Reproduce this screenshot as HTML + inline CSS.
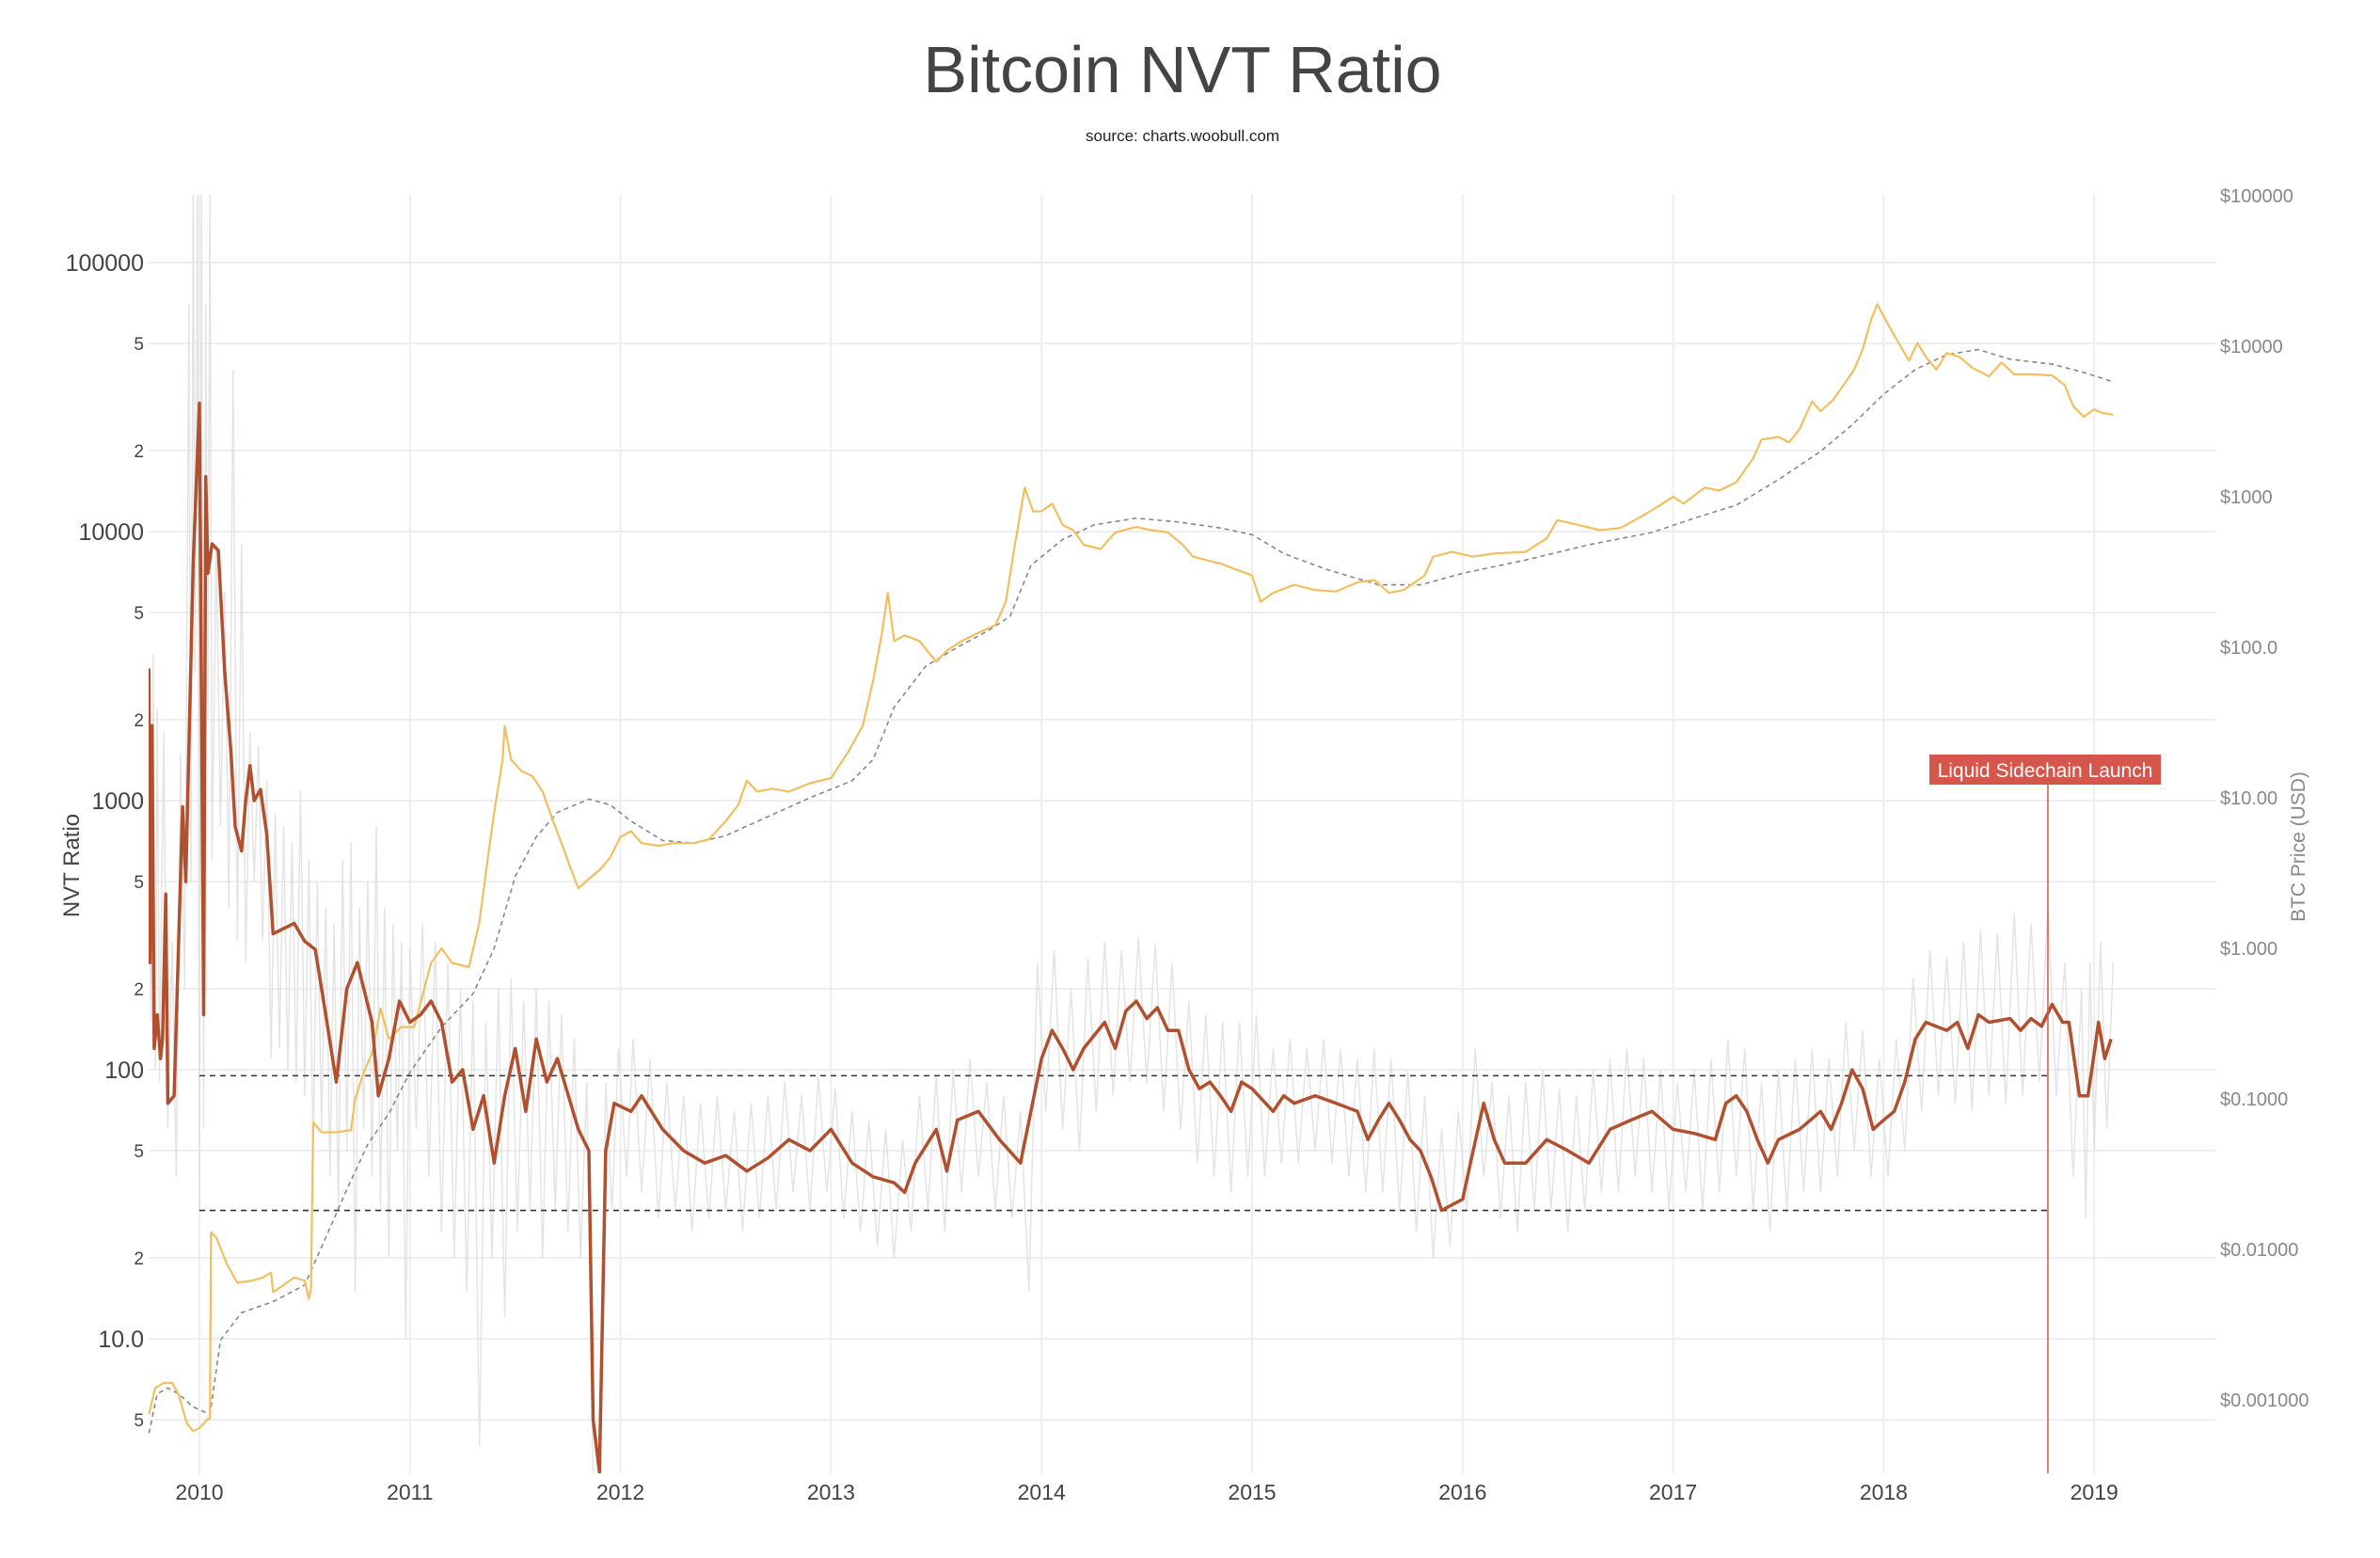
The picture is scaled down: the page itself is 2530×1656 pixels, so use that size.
<!DOCTYPE html>
<html><head><meta charset="utf-8"><style>
html,body{margin:0;padding:0;background:#fff;}
svg{display:block;font-family:"Liberation Sans",sans-serif;}
</style></head><body>
<svg id="chart" width="2530" height="1656" viewBox="0 0 2530 1656" xmlns="http://www.w3.org/2000/svg">
<text x="1257" y="98" text-anchor="middle" font-size="70" fill="#444" font-weight="200" style="font-family:'Liberation Sans','DejaVu Sans',sans-serif">Bitcoin NVT Ratio</text>
<text x="1257" y="150" text-anchor="middle" font-size="17" fill="#222">source: charts.woobull.com</text>
<g id="grid"></g>
<g id="axes"></g>
<defs><clipPath id="clip"><rect x="158" y="207" width="2198" height="1359"/></clipPath></defs>
<g id="marks" clip-path="url(#clip)"></g>
<text transform="translate(84,920) rotate(-90)" text-anchor="middle" font-size="24" fill="#444">NVT Ratio</text>
<text transform="translate(2450,900) rotate(-90)" text-anchor="middle" font-size="21" fill="#888">BTC Price (USD)</text>
</svg>
<script>
const yearTicks=[2010,2011,2012,2013,2014,2015,2016,2017,2018,2019];
const nvtMajor=[10,100,1000,10000,100000];
const nvtMajorLabels=["10.0","100","1000","10000","100000"];
const nvtMinor=[5,20,50,200,500,2000,5000,20000,50000];
const nvtMinorLabels=["5","2","5","2","5","2","5","2","5"];
const priceTicks=[0.001,0.01,0.1,1,10,100,1000,10000,100000];
const priceLabels=["$0.001000","$0.01000","$0.1000","$1.000","$10.00","$100.0","$1000","$10000","$100000"];
const bands=[95,30];
const launchYear=2018.78;
const launchLabel="Liquid Sidechain Launch";
const price=[[2009.76,0.0008],[2009.79,0.0012],[2009.83,0.0013],[2009.87,0.0013],[2009.9,0.0011],[2009.94,0.0007],[2009.97,0.00062],[2010.0,0.00065],[2010.04,0.00075],[2010.05,0.00075],[2010.055,0.013],[2010.08,0.012],[2010.13,0.008],[2010.18,0.006],[2010.25,0.0062],[2010.3,0.0065],[2010.34,0.007],[2010.35,0.0052],[2010.4,0.0058],[2010.45,0.0065],[2010.5,0.0062],[2010.52,0.0047],[2010.53,0.0055],[2010.54,0.07],[2010.58,0.06],[2010.65,0.06],[2010.72,0.062],[2010.74,0.1],[2010.78,0.15],[2010.82,0.2],[2010.86,0.4],[2010.9,0.25],[2010.96,0.3],[2011.02,0.3],[2011.1,0.8],[2011.15,1.0],[2011.2,0.8],[2011.28,0.75],[2011.33,1.5],[2011.37,4],[2011.4,8],[2011.44,18],[2011.45,30],[2011.48,18],[2011.53,15],[2011.58,14],[2011.63,11],[2011.68,7],[2011.72,5],[2011.76,3.5],[2011.8,2.5],[2011.85,2.9],[2011.9,3.3],[2011.95,4],[2012.0,5.5],[2012.05,6],[2012.1,5],[2012.18,4.8],[2012.25,5],[2012.35,5],[2012.42,5.3],[2012.5,7],[2012.56,9],[2012.6,13],[2012.65,11],[2012.72,11.5],[2012.8,11],[2012.9,12.5],[2013.0,13.5],[2013.08,20],[2013.15,30],[2013.2,60],[2013.24,120],[2013.27,230],[2013.3,110],[2013.35,120],[2013.42,110],[2013.5,80],[2013.55,95],[2013.62,110],[2013.7,125],[2013.78,140],[2013.83,200],[2013.87,450],[2013.92,1150],[2013.96,800],[2014.0,800],[2014.05,900],[2014.1,650],[2014.15,600],[2014.2,480],[2014.28,450],[2014.35,580],[2014.45,630],[2014.52,600],[2014.6,580],[2014.67,480],[2014.72,400],[2014.78,380],[2014.85,360],[2014.92,330],[2015.0,300],[2015.04,200],[2015.1,230],[2015.2,260],[2015.3,240],[2015.4,235],[2015.5,270],[2015.58,280],[2015.65,230],[2015.72,240],[2015.82,300],[2015.86,400],[2015.95,430],[2016.05,400],[2016.15,420],[2016.3,430],[2016.4,530],[2016.45,700],[2016.55,650],[2016.65,600],[2016.75,620],[2016.85,740],[2016.95,900],[2017.0,1000],[2017.05,900],[2017.15,1150],[2017.22,1100],[2017.3,1250],[2017.38,1800],[2017.42,2400],[2017.5,2500],[2017.55,2300],[2017.6,2800],[2017.66,4300],[2017.7,3700],[2017.76,4400],[2017.82,5800],[2017.86,7000],[2017.9,9500],[2017.94,15000],[2017.97,19000],[2018.02,14000],[2018.08,10000],[2018.12,8000],[2018.16,10500],[2018.2,8500],[2018.25,7000],[2018.3,9000],[2018.36,8500],[2018.42,7200],[2018.5,6300],[2018.56,7800],[2018.62,6500],[2018.7,6500],[2018.8,6400],[2018.86,5500],[2018.9,4000],[2018.95,3400],[2019.0,3800],[2019.04,3600],[2019.09,3500]];
const priceMA=[[2009.76,0.0006],[2009.8,0.0011],[2009.85,0.0012],[2009.9,0.0011],[2009.97,0.0009],[2010.05,0.0008],[2010.1,0.0025],[2010.2,0.0038],[2010.35,0.0045],[2010.5,0.0058],[2010.6,0.012],[2010.7,0.025],[2010.8,0.05],[2010.9,0.08],[2011.0,0.15],[2011.15,0.3],[2011.3,0.5],[2011.4,1.0],[2011.5,3],[2011.6,5.5],[2011.7,8],[2011.85,9.8],[2011.95,9],[2012.05,7],[2012.2,5.2],[2012.35,5],[2012.5,5.6],[2012.7,7.5],[2012.9,10],[2013.1,13],[2013.2,18],[2013.3,40],[2013.45,75],[2013.6,100],[2013.75,130],[2013.85,160],[2013.95,350],[2014.1,520],[2014.25,650],[2014.45,720],[2014.65,680],[2014.85,620],[2015.0,560],[2015.15,420],[2015.35,330],[2015.6,260],[2015.8,260],[2016.0,310],[2016.3,380],[2016.6,480],[2016.9,580],[2017.1,720],[2017.3,880],[2017.5,1300],[2017.7,2000],[2017.85,3000],[2018.0,4800],[2018.15,7000],[2018.3,8800],[2018.45,9500],[2018.6,8200],[2018.8,7600],[2018.95,6700],[2019.09,5800]];
const nvtSmooth=[[2009.76,3100],[2009.765,250],[2009.775,1900],[2009.785,120],[2009.8,160],[2009.815,110],[2009.825,130],[2009.84,450],[2009.85,75],[2009.88,80],[2009.92,950],[2009.935,500],[2009.97,7500],[2010.0,30000],[2010.02,160],[2010.03,16000],[2010.04,7000],[2010.06,9000],[2010.09,8500],[2010.12,3000],[2010.15,1500],[2010.17,800],[2010.2,650],[2010.22,1000],[2010.24,1350],[2010.26,1000],[2010.29,1100],[2010.32,750],[2010.35,320],[2010.45,350],[2010.5,300],[2010.55,280],[2010.6,160],[2010.65,90],[2010.7,200],[2010.75,250],[2010.82,150],[2010.85,80],[2010.9,110],[2010.95,180],[2011.0,150],[2011.05,160],[2011.1,180],[2011.15,150],[2011.2,90],[2011.25,100],[2011.3,60],[2011.35,80],[2011.4,45],[2011.45,80],[2011.5,120],[2011.55,70],[2011.6,130],[2011.65,90],[2011.7,110],[2011.8,60],[2011.85,50],[2011.87,5],[2011.9,3.2],[2011.93,50],[2011.97,75],[2012.05,70],[2012.1,80],[2012.2,60],[2012.3,50],[2012.4,45],[2012.5,48],[2012.6,42],[2012.7,47],[2012.8,55],[2012.9,50],[2013.0,60],[2013.1,45],[2013.2,40],[2013.3,38],[2013.35,35],[2013.4,45],[2013.5,60],[2013.55,42],[2013.6,65],[2013.7,70],[2013.8,55],[2013.9,45],[2014.0,110],[2014.05,140],[2014.1,120],[2014.15,100],[2014.2,120],[2014.3,150],[2014.35,120],[2014.4,165],[2014.45,180],[2014.5,155],[2014.55,170],[2014.6,140],[2014.65,140],[2014.7,100],[2014.75,85],[2014.8,90],[2014.85,80],[2014.9,70],[2014.95,90],[2015.0,85],[2015.1,70],[2015.15,80],[2015.2,75],[2015.3,80],[2015.4,75],[2015.5,70],[2015.55,55],[2015.6,65],[2015.65,75],[2015.7,65],[2015.75,55],[2015.8,50],[2015.85,40],[2015.9,30],[2016.0,33],[2016.05,50],[2016.1,75],[2016.15,55],[2016.2,45],[2016.3,45],[2016.4,55],[2016.5,50],[2016.6,45],[2016.7,60],[2016.8,65],[2016.9,70],[2017.0,60],[2017.1,58],[2017.2,55],[2017.25,75],[2017.3,80],[2017.35,70],[2017.4,55],[2017.45,45],[2017.5,55],[2017.6,60],[2017.7,70],[2017.75,60],[2017.8,75],[2017.85,100],[2017.9,85],[2017.95,60],[2018.0,65],[2018.05,70],[2018.1,90],[2018.15,130],[2018.2,150],[2018.3,140],[2018.35,150],[2018.4,120],[2018.45,160],[2018.5,150],[2018.6,155],[2018.65,140],[2018.7,155],[2018.75,145],[2018.8,175],[2018.85,150],[2018.88,150],[2018.93,80],[2018.97,80],[2019.0,115],[2019.02,150],[2019.05,110],[2019.08,130]];
const nvtRaw=[[2009.76,600],[2009.77,150],[2009.78,3500],[2009.79,100],[2009.8,2200],[2009.81,90],[2009.83,1800],[2009.85,60],[2009.87,300],[2009.89,40],[2009.91,1500],[2009.93,200],[2009.95,70000],[2009.96,500],[2009.97,200000],[2009.98,3000],[2009.99,200000],[2010.0,30],[2010.01,200000],[2010.02,60],[2010.03,70000],[2010.04,2000],[2010.05,200000],[2010.06,600],[2010.08,9000],[2010.1,800],[2010.12,6000],[2010.14,400],[2010.16,40000],[2010.18,300],[2010.2,9000],[2010.22,250],[2010.24,1800],[2010.26,500],[2010.28,1600],[2010.3,300],[2010.32,1200],[2010.34,110],[2010.36,900],[2010.38,120],[2010.4,800],[2010.42,100],[2010.44,700],[2010.46,90],[2010.48,1100],[2010.5,80],[2010.52,600],[2010.54,50],[2010.56,500],[2010.58,60],[2010.6,400],[2010.62,40],[2010.64,350],[2010.66,30],[2010.68,600],[2010.7,50],[2010.72,700],[2010.74,15],[2010.76,400],[2010.78,60],[2010.8,500],[2010.82,40],[2010.84,800],[2010.86,30],[2010.88,400],[2010.9,20],[2010.92,350],[2010.94,50],[2010.96,300],[2010.98,10],[2011.0,280],[2011.03,60],[2011.06,350],[2011.09,40],[2011.12,300],[2011.15,25],[2011.18,250],[2011.21,20],[2011.24,200],[2011.27,15],[2011.3,180],[2011.33,4],[2011.36,150],[2011.39,20],[2011.42,200],[2011.45,12],[2011.48,220],[2011.51,25],[2011.54,180],[2011.57,30],[2011.6,200],[2011.63,20],[2011.66,180],[2011.69,30],[2011.72,160],[2011.75,25],[2011.78,130],[2011.81,20],[2011.84,90],[2011.87,3],[2011.9,3],[2011.93,90],[2011.96,30],[2011.99,120],[2012.03,40],[2012.06,130],[2012.1,35],[2012.14,110],[2012.18,28],[2012.22,90],[2012.26,30],[2012.3,80],[2012.34,25],[2012.38,75],[2012.42,28],[2012.46,80],[2012.5,30],[2012.54,70],[2012.58,25],[2012.62,75],[2012.66,28],[2012.7,80],[2012.74,30],[2012.78,90],[2012.82,35],[2012.86,80],[2012.9,30],[2012.94,95],[2012.98,35],[2013.02,85],[2013.06,28],[2013.1,70],[2013.14,25],[2013.18,65],[2013.22,22],[2013.26,60],[2013.3,20],[2013.34,55],[2013.38,25],[2013.42,80],[2013.46,30],[2013.5,95],[2013.54,25],[2013.58,100],[2013.62,35],[2013.66,110],[2013.7,40],[2013.74,90],[2013.78,30],[2013.82,80],[2013.86,28],[2013.9,70],[2013.94,15],[2013.98,250],[2014.02,70],[2014.06,280],[2014.1,60],[2014.14,200],[2014.18,50],[2014.22,260],[2014.26,70],[2014.3,300],[2014.34,80],[2014.38,280],[2014.42,90],[2014.46,310],[2014.5,90],[2014.54,290],[2014.58,70],[2014.62,250],[2014.66,60],[2014.7,180],[2014.74,45],[2014.78,160],[2014.82,40],[2014.86,150],[2014.9,35],[2014.94,150],[2014.98,40],[2015.02,160],[2015.06,40],[2015.1,120],[2015.14,45],[2015.18,130],[2015.22,45],[2015.26,120],[2015.3,50],[2015.34,130],[2015.38,45],[2015.42,120],[2015.46,40],[2015.5,110],[2015.54,35],[2015.58,120],[2015.62,35],[2015.66,110],[2015.7,30],[2015.74,100],[2015.78,25],[2015.82,80],[2015.86,20],[2015.9,60],[2015.94,22],[2015.98,70],[2016.02,30],[2016.06,120],[2016.1,40],[2016.14,90],[2016.18,28],[2016.22,80],[2016.26,25],[2016.3,90],[2016.34,30],[2016.38,100],[2016.42,30],[2016.46,85],[2016.5,25],[2016.54,80],[2016.58,30],[2016.62,100],[2016.66,35],[2016.7,110],[2016.74,35],[2016.78,120],[2016.82,40],[2016.86,110],[2016.9,35],[2016.94,100],[2016.98,30],[2017.02,90],[2017.06,35],[2017.1,100],[2017.14,30],[2017.18,110],[2017.22,35],[2017.26,130],[2017.3,40],[2017.34,120],[2017.38,30],[2017.42,90],[2017.46,25],[2017.5,100],[2017.54,30],[2017.58,110],[2017.62,35],[2017.66,120],[2017.7,35],[2017.74,110],[2017.78,40],[2017.82,150],[2017.86,50],[2017.9,140],[2017.94,40],[2017.98,110],[2018.02,40],[2018.06,130],[2018.1,50],[2018.14,220],[2018.18,70],[2018.22,280],[2018.26,80],[2018.3,260],[2018.34,75],[2018.38,300],[2018.42,70],[2018.46,330],[2018.5,80],[2018.54,320],[2018.58,75],[2018.62,380],[2018.66,80],[2018.7,350],[2018.74,90],[2018.78,400],[2018.82,80],[2018.86,250],[2018.9,40],[2018.94,200],[2018.96,28],[2018.98,250],[2019.0,50],[2019.03,300],[2019.06,60],[2019.09,250]];

const svgNS="http://www.w3.org/2000/svg";
const X=y=>212+(y-2010)*223.8;
const YN=v=>1423-286*(Math.log10(v)-1);
const YP=v=>1008-160*Math.log10(v);
const grid=document.getElementById('grid'),axes=document.getElementById('axes'),marks=document.getElementById('marks');
function mk(tag,attrs,parent,text){const e=document.createElementNS(svgNS,tag);for(const k in attrs)e.setAttribute(k,attrs[k]);if(text!==undefined)e.textContent=text;parent.appendChild(e);return e;}
yearTicks.forEach(y=>{
  const l=mk('line',{x1:X(y),x2:X(y),y1:207,y2:1566,stroke:'#eee','stroke-width':2},grid);
  
  
  const t=mk('text',{x:X(y),y:1594,'text-anchor':'middle','font-size':23,fill:'#444'},axes,String(y));
  
  
});
nvtMajor.forEach((v,i)=>{
  const l=mk('line',{x1:158,x2:2356,y1:YN(v),y2:YN(v),stroke:'#eee','stroke-width':2},grid);
  
  
  const t=mk('text',{x:153,y:YN(v)+9,'text-anchor':'end','font-size':25,fill:'#444'},axes,nvtMajorLabels[i]);
  
  
});
nvtMinor.forEach((v,i)=>{
  const l=mk('line',{x1:158,x2:2356,y1:YN(v),y2:YN(v),stroke:'#eee','stroke-width':2},grid);
  
  
  const t=mk('text',{x:153,y:YN(v)+7,'text-anchor':'end','font-size':19,fill:'#444'},axes,nvtMinorLabels[i]);
  
  
});
priceTicks.forEach((v,i)=>{
  const t=mk('text',{x:2360,y:YP(v)+7,'font-size':20,fill:'#888'},axes,priceLabels[i]);
  
  
});
function path(data,xf,yf){return data.map((d,i)=>(i?'L':'M')+xf(d[0]).toFixed(1)+','+yf(d[1]).toFixed(1)).join('');}
const raw=mk('path',{d:path(nvtRaw,X,YN),fill:'none',stroke:'#ddd','stroke-opacity':0.8,'stroke-width':1.5},marks);


bands.forEach(b=>{
  const l=mk('line',{x1:X(2010),x2:X(launchYear),y1:YN(b),y2:YN(b),stroke:'#333','stroke-width':1.6,'stroke-dasharray':'6,5'},marks);
  
  
});
const ma=mk('path',{d:path(priceMA,X,YP),fill:'none',stroke:'#888','stroke-width':1.6,'stroke-dasharray':'5,4'},marks);


const pr=mk('path',{d:path(price,X,YP),fill:'none',stroke:'#f0c060','stroke-width':2.2,'stroke-linejoin':'round'},marks);


const sm=mk('path',{d:path(nvtSmooth,X,YN),fill:'none',stroke:'#b0502e','stroke-width':3.5,'stroke-linejoin':'round'},marks);


const vl=mk('line',{x1:X(launchYear),x2:X(launchYear),y1:834,y2:1566,stroke:'#d9534f','stroke-width':1.5},marks);


const svg=document.getElementById('chart');
const box=mk('rect',{x:2051,y:802,width:246,height:32,fill:'#d5564a'},svg);


const bt=mk('text',{x:2174,y:826,'text-anchor':'middle','font-size':21,fill:'#fff'},svg,launchLabel);


</script>
</body></html>
